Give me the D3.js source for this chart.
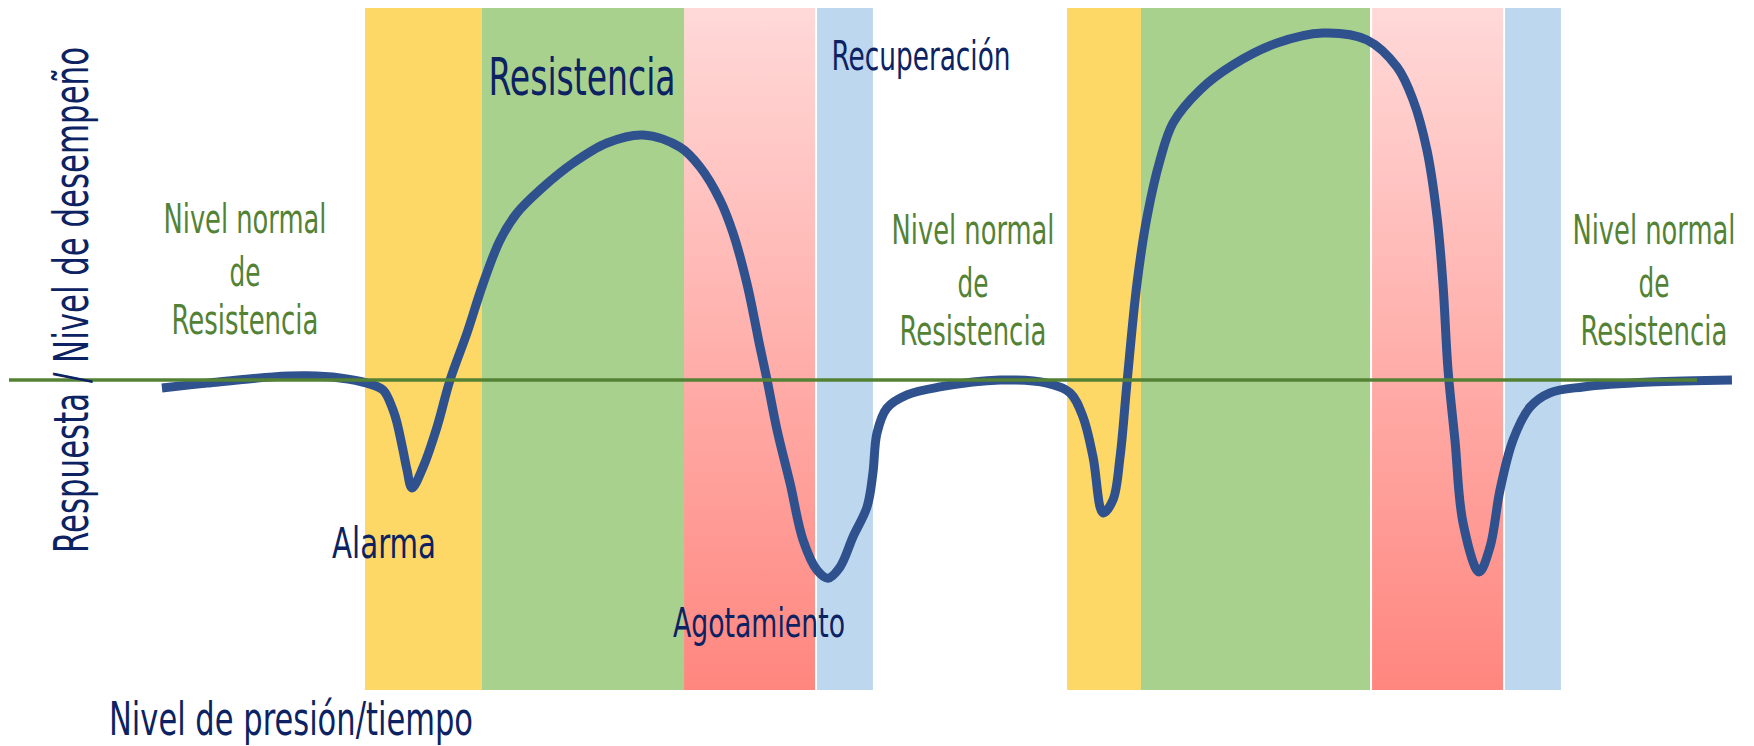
<!DOCTYPE html>
<html>
<head>
<meta charset="utf-8">
<script src="https://cdn.jsdelivr.net/npm/d3@7"></script>
<style>
  html, body { margin: 0; padding: 0; background: #fff; }
  svg { display: block; }
</style>
</head>
<body>
<svg id="chart"></svg>
<script>
// stress response phases, in time units (0..100 = normal level line)
const phaseNames = ['Alarma', 'Resistencia', 'Agotamiento', 'Recuperación', 'Alarma', 'Resistencia', 'Agotamiento', 'Recuperación'];
const phaseStart = [21.09, 28.02, 39.99, 47.87, 62.68, 67.06, 80.75, 88.63];
const phaseEnd = [28.02, 39.99, 47.75, 51.18, 67.24, 80.63, 88.51, 91.94];

// response curve: time and level (0 = normal resistance level)
const curveTime = [
  9.06, 11.73, 15.64, 17.65, 19.61, 21.21, 22.16, 22.75, 22.99, 23.34, 23.58, 23.87,
  24.53, 25.36, 26.13, 27.13, 28.08, 29.09, 30.09, 31.46, 33.41, 35.43, 37.56,
  39.75, 40.94, 42.12, 42.89, 43.72, 44.49, 44.91, 45.50, 46.27, 47.04, 47.87, 48.52,
  49.23, 50.00, 50.83, 51.18, 51.42, 52.01, 53.20, 55.15, 58.71, 61.49,
  62.86, 63.63, 64.22, 64.81, 65.40, 65.82, 66.23, 66.82, 67.42, 68.19, 68.96,
  70.56, 72.51, 75.12, 77.84, 80.45, 82.23, 83.18, 84.00, 84.60, 84.95, 85.25,
  85.66, 86.14, 87.09, 87.74, 88.33, 89.10, 90.11, 91.29, 93.25, 97.22, 102.07
];
const curveLevel = [
  -2.3, -0.9, 0.9, 1.2, 0.6, -0.9, -2.9, -8.6, -12.4, -20.2, -25.9, -31.1,
  -25.1, -13.5, 0, 13.5, 27.7, 40.3, 48.1, 54.8, 62.5, 68.3, 70.6,
  67.1, 61.4, 51.9, 42.4, 27.7, 9.5, 0, -14.4, -29.7, -46.1, -54.8, -57.1,
  -53.9, -45.2, -36.6, -26.8, -15.3, -8.1, -4.3, -2.0, 0, -0.9,
  -3.7, -10.7, -22.2, -38.3, -34.6, -22.2, -0.9, 27.7, 47.0, 63.4, 74.1,
  83.6, 90.8, 97.1, 100, 98.0, 90.2, 80.7, 66.3, 47.0, 27.7, 2.9,
  -17.3, -41.2, -55.3, -48.1, -31.7, -17.3, -7.8, -3.7, -2.0, -0.6, 0
];

const normalLevel = 0;
const normalSpan = [0, 100];

// phase labels and where they sit (time, level)
const stageLabels = ['Resistencia', 'Recuperación', 'Alarma', 'Agotamiento'];
const stageTime = [33.95, 54.03, 22.22, 44.43];
const stageLevel = [82.1, 89.3, -51.3, -74.1];

const normalLines = ['Nivel normal', 'de', 'Resistencia'];
const normalTime = [13.98, 57.11, 97.45];
const normalTop = [42.4, 39.2, 39.2];

const xTitle = 'Nivel de presión/tiempo';
const yTitle = 'Respuesta / Nivel de desempeño';

const width = 1754;
const height = 746;

const svg = d3.select('#chart')
  .attr('width', width)
  .attr('height', height);

const x = d3.scaleLinear().domain([0, 100]).range([9, 1697]);
const y = d3.scaleLinear().domain([-100, 100]).range([727, 33]);

const bandTop = 8;
const bandBottom = 690;

const phaseColor = {
  'Alarma': '#FDD866',
  'Resistencia': '#A9D18E',
  'Agotamiento': 'url(#agotGrad)',
  'Recuperación': '#BDD7EE'
};

const defs = svg.append('defs');
const grad = defs.append('linearGradient')
  .attr('id', 'agotGrad')
  .attr('x1', 0).attr('y1', 0)
  .attr('x2', 0).attr('y2', 1);
grad.append('stop').attr('offset', '0%').attr('stop-color', '#FFD9D8');
grad.append('stop').attr('offset', '100%').attr('stop-color', '#FF867F');

const phases = phaseNames.map((name, i) => ({
  name,
  start: phaseStart[i],
  end: phaseEnd[i]
}));

// draw alarm bands first so the green overlaps them
const order = { 'Alarma': 0, 'Recuperación': 1, 'Agotamiento': 2, 'Resistencia': 3 };

svg.append('g')
  .selectAll('rect')
  .data(phases.slice().sort((a, b) => order[a.name] - order[b.name]))
  .enter()
  .append('rect')
  .attr('x', d => x(d.start))
  .attr('y', bandTop)
  .attr('width', d => x(d.end) - x(d.start))
  .attr('height', bandBottom - bandTop)
  .attr('fill', d => phaseColor[d.name]);

const points = curveTime.map((t, i) => ({ t, v: curveLevel[i] }));

const line = d3.line()
  .x(d => x(d.t))
  .y(d => y(d.v))
  .curve(d3.curveCatmullRom.alpha(0.5));

svg.append('path')
  .datum(points)
  .attr('d', line)
  .attr('fill', 'none')
  .attr('stroke', '#2F528F')
  .attr('stroke-width', 9)
  .attr('stroke-linejoin', 'round');

// normal resistance level, on top of the curve
svg.append('line')
  .attr('x1', x(normalSpan[0]))
  .attr('x2', x(normalSpan[1]))
  .attr('y1', y(normalLevel))
  .attr('y2', y(normalLevel))
  .attr('stroke', '#548235')
  .attr('stroke-width', 3.5);

const narrow = '"Liberation Sans Narrow", "DejaVu Sans Condensed", "Roboto", sans-serif';
const navy = '#0C2262';
const green = '#548235';

const stageSize = [52, 41, 42, 41];
const stageWidth = [187, 179, 104, 172];

svg.append('g')
  .selectAll('text')
  .data(stageLabels)
  .enter()
  .append('text')
  .attr('x', (d, i) => x(stageTime[i]))
  .attr('y', (d, i) => y(stageLevel[i]))
  .attr('text-anchor', 'middle')
  .attr('font-family', narrow)
  .attr('font-size', (d, i) => stageSize[i])
  .attr('textLength', (d, i) => stageWidth[i])
  .attr('lengthAdjust', 'spacingAndGlyphs')
  .attr('fill', navy)
  .text(d => d);

const lineWidth = [163, 31, 147];
const lineGap = [0, 53, 101];

normalTime.forEach((t, k) => {
  svg.append('g')
    .selectAll('text')
    .data(normalLines)
    .enter()
    .append('text')
    .attr('x', x(t))
    .attr('y', (d, i) => y(normalTop[k]) + lineGap[i])
    .attr('text-anchor', 'middle')
    .attr('font-family', narrow)
    .attr('font-size', 41)
    .attr('textLength', (d, i) => lineWidth[i])
    .attr('lengthAdjust', 'spacingAndGlyphs')
    .attr('fill', green)
    .text(d => d);
});

svg.append('text')
  .attr('x', 109)
  .attr('y', 735)
  .attr('font-family', narrow)
  .attr('font-size', 47)
  .attr('textLength', 364)
  .attr('lengthAdjust', 'spacingAndGlyphs')
  .attr('fill', navy)
  .text(xTitle);

svg.append('text')
  .attr('transform', 'translate(88,300) rotate(-90)')
  .attr('text-anchor', 'middle')
  .attr('font-family', '"DejaVu Sans", sans-serif')
  .attr('font-size', 48)
  .attr('textLength', 506)
  .attr('lengthAdjust', 'spacingAndGlyphs')
  .attr('fill', navy)
  .text(yTitle);
</script>
</body>
</html>
